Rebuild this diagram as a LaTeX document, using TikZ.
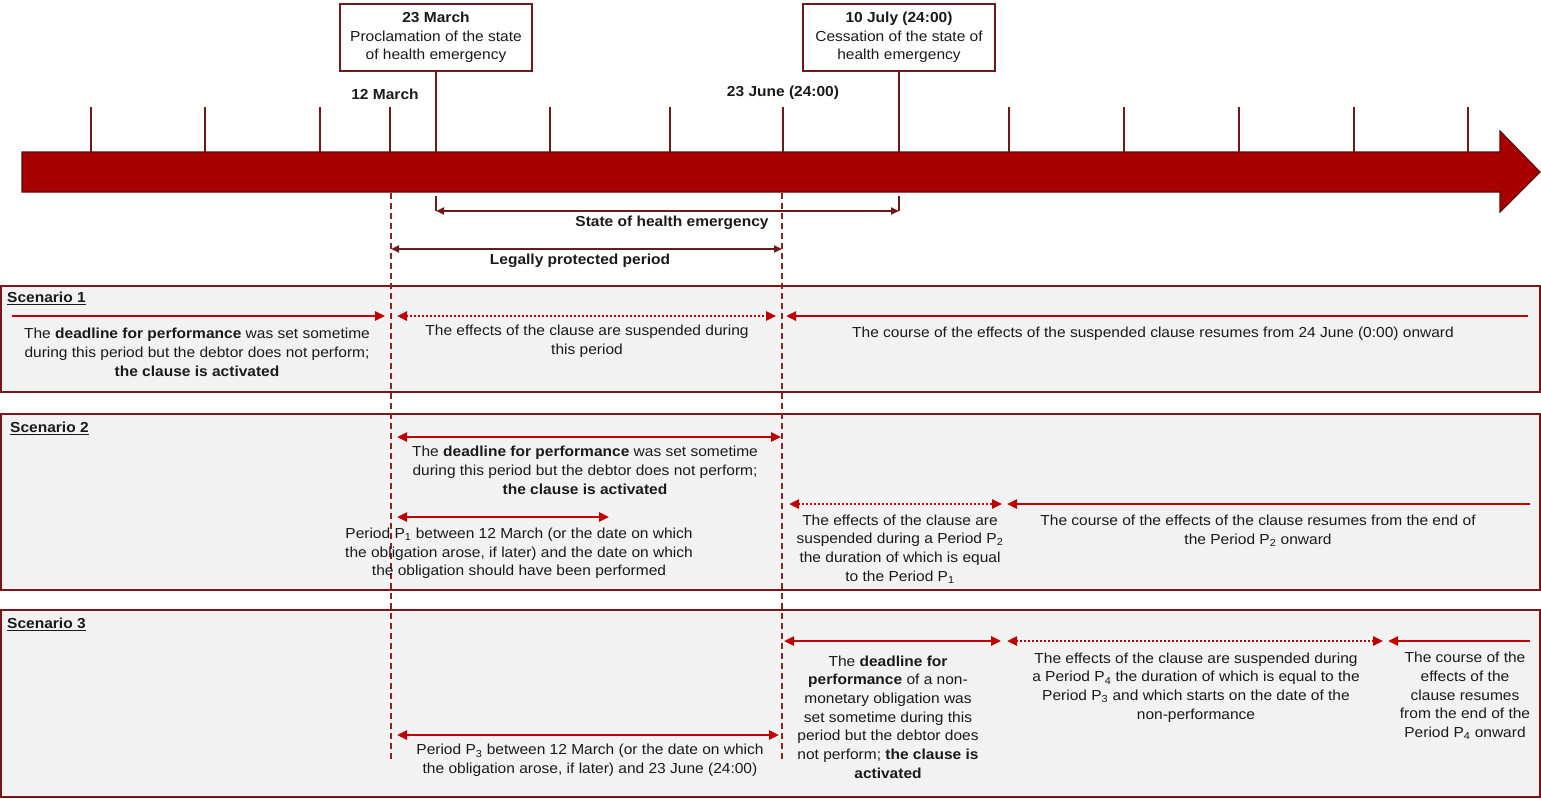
\documentclass[tikz,border=0pt]{standalone}
\usepackage{fontspec}
\setmainfont[FakeStretch=1.07]{Liberation Sans}
\usetikzlibrary{arrows.meta}
\definecolor{barred}{HTML}{A80000}
\definecolor{bardark}{HTML}{5E0A0A}
\definecolor{maroon}{HTML}{6E1A1A}
\definecolor{redarr}{HTML}{C00000}
\definecolor{scbg}{HTML}{F2F2F2}
\definecolor{scline}{HTML}{7A1518}
\definecolor{dashc}{HTML}{8B2323}
\definecolor{txt}{HTML}{1A1A1A}
\begin{document}
\begin{tikzpicture}[x=1pt,y=-1pt,
  every node/.style={text=txt, font=\fontsize{14.5}{18.7}\selectfont, inner sep=0pt},
  body/.style={align=center, yshift=-1.5pt},
  lbl/.style={font=\fontsize{14.5}{18.7}\selectfont\bfseries, yshift=-1pt},
  datebox/.style={draw=maroon, line width=2pt, fill=white, align=center, minimum width=192pt, minimum height=67pt, inner sep=2pt},
  tick/.style={draw=maroon, line width=2pt},
  scbox/.style={draw=scline, line width=2pt, fill=scbg},
  vdash/.style={draw=dashc, line width=1.5pt, dash pattern=on 6pt off 4pt},
  redline/.style={draw=redarr, line width=2.4pt},
  tipR/.style={-{Triangle[length=10pt,width=9pt]}},
  tipB/.style={{Triangle[length=10pt,width=9pt]}-{Triangle[length=10pt,width=9pt]}},
  tipM/.style={{Triangle[length=8pt,width=7pt]}-{Triangle[length=8pt,width=7pt]}},
  dots/.style={dash pattern=on 2pt off 2pt},
  mline/.style={draw=maroon, line width=2pt},
  scname/.style={anchor=west, font=\fontsize{14.5}{18.7}\selectfont\bfseries, yshift=-1pt}
]
\useasboundingbox (0,0) rectangle (1541,798);

% timeline bar
\path[fill=barred, draw=bardark, line width=1.2pt] (22,152) -- (1500,152) -- (1500,131) -- (1540,172) -- (1500,212) -- (1500,192) -- (22,192) -- cycle;

% ticks
\foreach \x [count=\i] in {91,205,320,390,550,670,783,1009,1124,1239,1354,1468} {
  \coordinate (tt\i) at (\x,107);
  \coordinate (tb\i) at (\x,152);
  \draw[tick] (tt\i) -- (tb\i);
}

% date boxes
\node[datebox] (b23) at (436,37.5) {\textbf{23 March}\\Proclamation of the state\\of health emergency};
\node[datebox] (b10) at (899,37.5) {\textbf{10 July (24:00)}\\Cessation of the state of\\health emergency};
\coordinate (m23) at (436,152);
\coordinate (m10) at (899,152);
\draw[tick] (b23.south) -- (m23);
\draw[tick] (b10.south) -- (m10);

\node[lbl] (l12) at (385,93) {12 March};
\node[lbl] (l23) at (783,92) {23 June (24:00)};

% state of health emergency
\coordinate (se1t) at (436,196); \coordinate (se1b) at (436,211);
\coordinate (se2t) at (899,196); \coordinate (se2b) at (899,211);
\draw[mline] (se1t) -- (se1b);
\draw[mline] (se2t) -- (se2b);
\draw[mline, tipM] (se1b) -- (se2b);
\node[lbl] (lse) at (672,222) {State of health emergency};

% legally protected period
\coordinate (lp1) at (391,249); \coordinate (lp2) at (782,249);
\draw[mline, tipM] (lp1) -- (lp2);
\node[lbl] (llp) at (580,260) {Legally protected period};

% scenario boxes
\path[scbox] (1,286) rectangle (1540,392);
\path[scbox] (1,414) rectangle (1540,590);
\path[scbox] (1,610) rectangle (1540,797);

% dashed verticals
\coordinate (d12t) at (391,193); \coordinate (d12b) at (391,762);
\coordinate (d23t) at (782,193); \coordinate (d23b) at (782,762);
\draw[vdash] (d12t) -- (d12b);
\draw[vdash] (d23t) -- (d23b);

% Scenario 1
\node[scname] (sc1) at (7,297) {\underline{Scenario 1}};
\coordinate (a1s) at (12,316); \coordinate (a1e) at (385,316);
\coordinate (a2s) at (397,316); \coordinate (a2e) at (776,316);
\coordinate (a3s) at (1528,316); \coordinate (a3e) at (786,316);
\draw[redline, tipR] (a1s) -- (a1e);
\draw[redline, tipB, dots] (a2s) -- (a2e);
\draw[redline, tipR] (a3s) -- (a3e);
\node[body] (s1a) at (197,351) {The \textbf{deadline for performance} was set sometime\\during this period but the debtor does not perform;\\\textbf{the clause is activated}};
\node[body] (s1b) at (587,340) {The effects of the clause are suspended during\\this period};
\node[body] (s1c) at (1153,332) {The course of the effects of the suspended clause resumes from 24 June (0:00) onward};

% Scenario 2
\node[scname] (sc2) at (10,427) {\underline{Scenario 2}};
\coordinate (b1s) at (397,437); \coordinate (b1e) at (781,437);
\draw[redline, tipB] (b1s) -- (b1e);
\node[body] (s2a) at (585,469) {The \textbf{deadline for performance} was set sometime\\during this period but the debtor does not perform;\\\textbf{the clause is activated}};
\coordinate (b2s) at (397,517); \coordinate (b2e) at (609,517);
\draw[redline, tipB] (b2s) -- (b2e);
\node[body] (s2b) at (519,552) {Period P\textsubscript{1} between 12 March (or the date on which\\the obligation arose, if later) and the date on which\\the obligation should have been performed};
\coordinate (b3s) at (789,504); \coordinate (b3e) at (1002,504);
\draw[redline, tipB, dots] (b3s) -- (b3e);
\node[body] (s2c) at (900,547.5) {The effects of the clause are\\suspended during a Period P\textsubscript{2}\\the duration of which is equal\\to the Period P\textsubscript{1}};
\coordinate (b4s) at (1530,504); \coordinate (b4e) at (1007,504);
\draw[redline, tipR] (b4s) -- (b4e);
\node[body] (s2d) at (1258,529.5) {The course of the effects of the clause resumes from the end of\\the Period P\textsubscript{2} onward};

% Scenario 3
\node[scname] (sc3) at (7,623) {\underline{Scenario 3}};
\coordinate (c1s) at (784,641); \coordinate (c1e) at (1001,641);
\coordinate (c2s) at (1007,641); \coordinate (c2e) at (1383,641);
\coordinate (c3s) at (1530,641); \coordinate (c3e) at (1388,641);
\draw[redline, tipB] (c1s) -- (c1e);
\draw[redline, tipB, dots] (c2s) -- (c2e);
\draw[redline, tipR] (c3s) -- (c3e);
\node[body] (s3a) at (888,715.5) {The \textbf{deadline for}\\\textbf{performance} of a non-\\monetary obligation was\\set sometime during this\\period but the debtor does\\not perform; \textbf{the clause is}\\\textbf{activated}};
\node[body] (s3b) at (1196,686) {The effects of the clause are suspended during\\a Period P\textsubscript{4} the duration of which is equal to the\\Period P\textsubscript{3} and which starts on the date of the\\non-performance};
\node[body] (s3c) at (1465,694.5) {The course of the\\effects of the\\clause resumes\\from the end of the\\Period P\textsubscript{4} onward};
\coordinate (c4s) at (397,735); \coordinate (c4e) at (779,735);
\draw[redline, tipB] (c4s) -- (c4e);
\node[body] (s3d) at (590,759) {Period P\textsubscript{3} between 12 March (or the date on which\\the obligation arose, if later) and 23 June (24:00)};
\end{tikzpicture}
\end{document}
